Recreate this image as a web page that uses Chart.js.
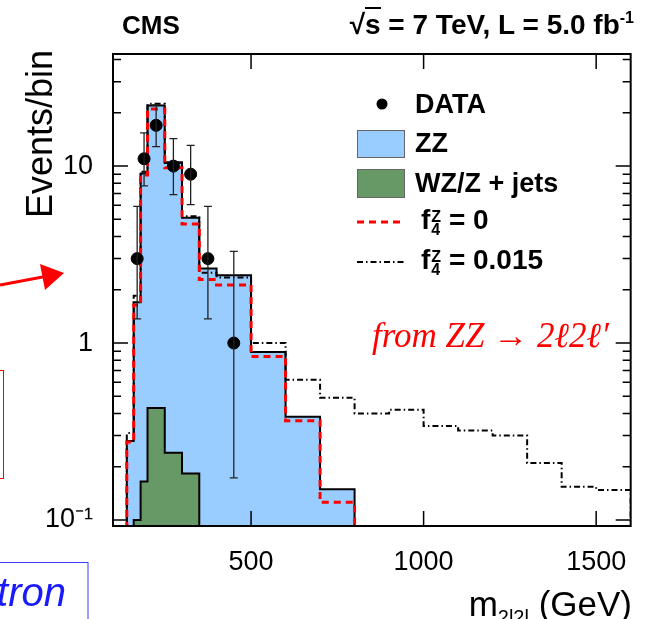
<!DOCTYPE html>
<html>
<head>
<meta charset="utf-8">
<script src="https://cdn.jsdelivr.net/npm/chart.js@4.4.1/dist/chart.umd.min.js"></script>
<style>
  body { margin: 0; background: #fff; }
  #wrap { position: relative; width: 647px; height: 619px; overflow: hidden; font-family: "Liberation Sans", Arial, sans-serif; color: #000; }
  #wrap canvas, #wrap svg { position: absolute; left: 0; top: 0; }
  .t { position: absolute; white-space: nowrap; line-height: 1; }
  .b { font-weight: bold; }
  .ss { display: inline-block; font-size: 16px; line-height: 13px; vertical-align: -6px; margin-left: 1px; }
  .ss span { display: block; }
</style>
</head>
<body>
<div id="wrap">
  <canvas id="myChart" width="647" height="619"></canvas>

  <svg width="647" height="619">
    <!-- bits of the slide around the figure -->
    <line x1="0" y1="285" x2="44" y2="276.8" stroke="#ff0000" stroke-width="3"/>
    <polygon points="64,273 40,264 45,290" fill="#ff0000"/>
    <rect x="-10" y="370.5" width="13.5" height="108" fill="none" stroke="#ff0000" stroke-width="1"/>
    <rect x="-10" y="562.5" width="98" height="80" fill="none" stroke="#3b3bff" stroke-width="1"/>
    <!-- legend symbols -->
    <circle cx="382" cy="104" r="5.5" fill="#000"/>
    <rect x="357.5" y="130.5" width="47" height="27" fill="#99ccff" stroke="#666" stroke-width="1"/>
    <rect x="357.5" y="169.5" width="47" height="28" fill="#669966" stroke="#666" stroke-width="1"/>
    <line x1="357" y1="222" x2="403" y2="222" stroke="#ff0000" stroke-width="3" stroke-dasharray="7 5"/>
    <line x1="357" y1="262" x2="405" y2="262" stroke="#000" stroke-width="2" stroke-dasharray="6 3 1.5 3"/>
  </svg>

  <div class="t b" style="left:122px; top:12px; font-size:26px;">CMS</div>
  <div class="t b" style="right:13px; top:11px; font-size:28px;">√<span style="border-top:2px solid #000;">s</span> = 7 TeV, L = 5.0 fb<span style="font-size:16px; position:relative; top:-11px;">-1</span></div>

  <div class="t" style="left:22px; top:218px; font-size:36px; transform-origin:0 0; transform:rotate(-90deg);">Events/bin</div>
  <div class="t" style="right:15px; top:586px; font-size:35px;">m<span style="font-size:20px; position:relative; top:8px;">2l2l</span> (GeV)</div>

  <div class="t b" style="left:415px; top:91px; font-size:27px;">DATA</div>
  <div class="t b" style="left:415px; top:130px; font-size:27px;">ZZ</div>
  <div class="t b" style="left:415px; top:170px; font-size:27px;">WZ/Z + jets</div>
  <div class="t b" style="left:421px; top:206px; font-size:28px;">f<span class="ss"><span>Z</span><span>4</span></span> = 0</div>
  <div class="t b" style="left:421px; top:246px; font-size:28px;">f<span class="ss"><span>Z</span><span>4</span></span> = 0.015</div>

  <div class="t" style="left:372px; top:318px; font-size:35px; font-family:'Liberation Serif', serif; font-style:italic; color:#ff0000;">from ZZ → 2ℓ2ℓ′</div>

  <div class="t" style="right:581px; top:572px; font-size:40px; font-style:italic; color:#1a1aff;">tron</div>
</div>

<script>
// bin edges in GeV (variable width up to 500, then 100 GeV)
const binEdges = [140, 160, 180, 200, 250, 300, 350, 400, 500, 600, 700, 800, 900, 1000, 1100, 1200, 1300, 1400, 1500, 1600];

// expected events per bin
const zzEvents  = [0.28, 1.6, 8.93, 21.57, 10.16, 4.92, 2.64, 2.42, 0.89, 0.383, 0.149];
const bkgEvents = [0, 0.1, 0.165, 0.43, 0.24, 0.183, 0, 0, 0, 0, 0];
const f4ZeroEvents = [0.276, 1.64, 8.9, 21.0, 9.8, 4.7, 2.29, 2.13, 0.84, 0.364, 0.126];
const f4AtgcEvents = [0.31, 1.85, 9.3, 22.5, 10.5, 5.2, 2.5, 2.35, 1.0, 0.62, 0.49, 0.40, 0.42, 0.34, 0.32, 0.30, 0.21, 0.154, 0.148];

// observed data
const dataMass = [170, 190, 225, 275, 325, 375, 450];
const dataCounts = [3, 11, 17, 10, 9, 3, 1];
const dataLow  = [1.37, 7.73, 12.9, 6.89, 6.06, 1.37, 0.173];
const dataHigh = [5.92, 15.4, 22.2, 14.3, 13.1, 5.92, 3.30];

// axes
const xTickValues = [500, 1000, 1500];
const yMajorTicks = [0.1, 1, 10];
const yMajorLabels = ['10⁻¹', '1', '10'];
const yTickValues = [0.1, 0.2, 0.3, 0.4, 0.5, 0.6, 0.7, 0.8, 0.9, 1, 2, 3, 4, 5, 6, 7, 8, 9, 10, 20, 30, 40];

const floorValue = 0.01; // below the axis, closes the histograms

function histPoints(values) {
    const pts = [{ x: binEdges[0], y: floorValue }];
    values.forEach((v, i) => pts.push({ x: binEdges[i], y: v > 0 ? v : floorValue }));
    pts.push({ x: binEdges[values.length], y: floorValue });
    return pts;
}

const stackTotal = zzEvents.map((v, i) => v + bkgEvents[i]);

const errorBars = {
    id: 'errorBars',
    afterDatasetsDraw(chart) {
        const { ctx, chartArea: a, scales: { x, y } } = chart;
        ctx.save();
        ctx.beginPath();
        ctx.rect(a.left, a.top, a.right - a.left, a.bottom - a.top);
        ctx.clip();
        ctx.strokeStyle = '#222';
        ctx.lineWidth = 1.3;
        ctx.beginPath();
        dataMass.forEach((m, i) => {
            const px = x.getPixelForValue(m);
            const top = y.getPixelForValue(dataHigh[i]);
            const bot = y.getPixelForValue(dataLow[i]);
            ctx.moveTo(px, top); ctx.lineTo(px, bot);
            ctx.moveTo(px - 4, top); ctx.lineTo(px + 4, top);
            ctx.moveTo(px - 4, bot); ctx.lineTo(px + 4, bot);
        });
        ctx.stroke();
        ctx.restore();
    }
};

const frame = {
    id: 'frame',
    afterDraw(chart) {
        const { ctx, chartArea: a, scales: { x, y } } = chart;
        ctx.save();
        ctx.strokeStyle = '#000';
        ctx.lineWidth = 1.5;
        ctx.beginPath();
        yTickValues.forEach(v => {
            const py = y.getPixelForValue(v);
            const len = yMajorTicks.includes(v) ? 15 : 8;
            ctx.moveTo(a.left, py); ctx.lineTo(a.left + len, py);
            ctx.moveTo(a.right, py); ctx.lineTo(a.right - len, py);
        });
        xTickValues.forEach(v => {
            const px = x.getPixelForValue(v);
            ctx.moveTo(px, a.bottom); ctx.lineTo(px, a.bottom - 15);
            ctx.moveTo(px, a.top); ctx.lineTo(px, a.top + 15);
        });
        ctx.stroke();
        ctx.lineWidth = 2;
        ctx.strokeRect(a.left, a.top, a.right - a.left, a.bottom - a.top);
        ctx.restore();
    }
};

const tickFont = { family: 'Liberation Sans', size: 27 };

const ctx = document.getElementById('myChart').getContext('2d');
const chart = new Chart(ctx, {
    type: 'line',
    data: {
        datasets: [
            {
                label: 'DATA',
                data: dataMass.map((m, i) => ({ x: m, y: dataCounts[i] })),
                showLine: false,
                pointRadius: 6,
                pointBackgroundColor: '#000',
                pointBorderColor: '#000',
                order: 0
            },
            {
                label: 'f4Z = 0.015',
                data: histPoints(f4AtgcEvents),
                stepped: true,
                borderColor: '#000',
                borderWidth: 2,
                borderDash: [6, 3, 1.5, 3],
                pointRadius: 0,
                fill: false,
                order: 2
            },
            {
                label: 'f4Z = 0',
                data: histPoints(f4ZeroEvents),
                stepped: true,
                borderColor: '#ff0000',
                borderWidth: 3,
                borderDash: [7, 5],
                pointRadius: 0,
                fill: false,
                order: 1
            },
            {
                label: 'WZ/Z + jets',
                data: histPoints(bkgEvents),
                stepped: true,
                borderColor: '#000',
                borderWidth: 2,
                backgroundColor: '#669966',
                pointRadius: 0,
                fill: 'start',
                order: 3
            },
            {
                label: 'ZZ',
                data: histPoints(stackTotal),
                stepped: true,
                borderColor: '#000',
                borderWidth: 2,
                backgroundColor: '#99ccff',
                pointRadius: 0,
                fill: 'start',
                order: 4
            }
        ]
    },
    options: {
        responsive: false,
        animation: false,
        layout: { padding: { left: 0, right: 12, top: 54, bottom: 0 } },
        plugins: { legend: { display: false }, tooltip: { enabled: false } },
        scales: {
            x: {
                type: 'linear',
                min: 100,
                max: 1600,
                afterBuildTicks: s => { s.ticks = xTickValues.map(v => ({ value: v })); },
                afterFit: s => { s.height = 93; },
                grid: { display: false, drawTicks: false },
                border: { display: false },
                ticks: { padding: 20, autoSkip: false, maxRotation: 0, color: '#000', font: tickFont, callback: v => String(v) }
            },
            y: {
                type: 'logarithmic',
                min: 0.0925,
                max: 43,
                afterBuildTicks: s => { s.ticks = yTickValues.map(v => ({ value: v })); },
                afterFit: s => { s.width = 113; },
                grid: { display: false, drawTicks: false },
                border: { display: false },
                ticks: {
                    padding: 20, autoSkip: false, color: '#000', font: tickFont,
                    callback: v => {
                        const k = yMajorTicks.indexOf(v);
                        return k >= 0 ? yMajorLabels[k] : '';
                    }
                }
            }
        }
    },
    plugins: [errorBars, frame]
});
</script>
</body>
</html>
